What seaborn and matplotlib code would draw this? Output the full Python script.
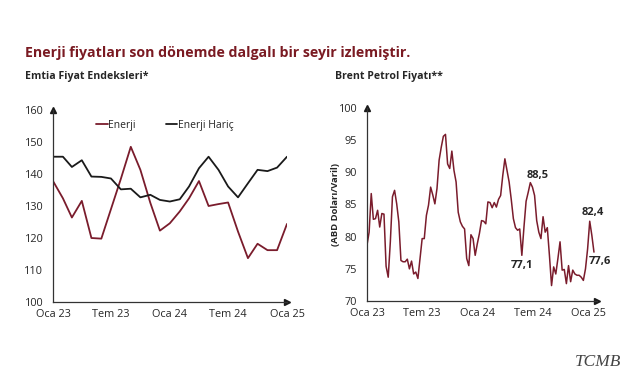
import pandas as pd
import numpy as np
import matplotlib
matplotlib.use("Agg")
import matplotlib.pyplot as plt
import seaborn as sns

# ==========================================
# DATA
# ==========================================

# Emtia fiyat endeksleri (aylik, Oca 23 - Oca 25)
enerji = [137.8, 132.4, 126.4, 131.6, 120.0, 119.8, 129.0, 138.5, 148.5, 141.3,
          131.0, 122.3, 124.6, 128.3, 132.4, 137.8, 130.0, 130.6, 131.1, 122.0,
          113.7, 118.2, 116.2, 116.2, 124.4]
enerji_haric = [145.4, 145.4, 142.2, 144.3, 139.2, 139.1, 138.6, 135.2, 135.4, 132.7,
                133.5, 131.9, 131.4, 132.1, 136.1, 141.8, 145.4, 141.3, 136.1, 132.7,
                137.1, 141.3, 140.9, 142.0, 145.4]

# Brent petrol fiyati (haftalik, ABD Dolari/Varil)
brent = [78.7, 80.7, 86.7, 82.7, 82.8, 84.1, 81.5, 83.6, 83.5, 75.4,
         73.7, 79.2, 86.2, 87.2, 85.1, 82.3, 76.3, 76.1, 76.1, 76.5,
         75.0, 76.2, 74.2, 74.5, 73.5, 76.6, 79.7, 79.7, 83.3, 84.9,
         87.7, 86.5, 85.1, 87.5, 91.9, 93.9, 95.6, 95.9, 91.3, 90.6,
         93.3, 90.3, 88.5, 83.8, 82.3, 81.6, 81.2, 76.6, 75.5, 80.3,
         79.7, 77.1, 78.9, 80.5, 82.5, 82.4, 82.0, 85.4, 85.3, 84.5,
         85.3, 84.6, 85.8, 86.4, 89.5, 92.1, 90.3, 88.5, 85.8, 82.8,
         81.4, 81.0, 81.2, 77.1, 81.5, 85.5, 86.9, 88.4, 87.7, 86.4,
         82.5, 80.7, 79.7, 83.1, 80.7, 81.4, 77.1, 72.4, 75.3, 74.2,
         76.6, 79.2, 74.8, 74.9, 72.7, 75.5, 73.0, 74.8, 74.2, 74.0,
         74.0, 73.7, 73.2, 75.0, 78.1, 82.4, 80.2, 77.6]

tick_labels = ["Oca 23", "Tem 23", "Oca 24", "Tem 24", "Oca 25"]
tick_dates = pd.to_datetime(["2023-01-01", "2023-07-01", "2024-01-01",
                             "2024-07-01", "2025-01-01"])

# labels for the brent chart: (index, text, offset in points)
brent_notes = [(73, "77,1", (0, -7)), (77, "88,5", (5, 5)),
               (105, "82,4", (2.5, 6.5)), (107, "77,6", (4.5, -7))]

months = pd.date_range("2023-01-01", periods=len(enerji), freq="MS")
df_left = pd.DataFrame({"Tarih": list(months) * 2,
                        "Deger": enerji + enerji_haric,
                        "Seri": ["Enerji"] * len(enerji) + ["Enerji Hariç"] * len(enerji_haric)})

weeks = pd.date_range("2023-01-01", periods=len(brent), freq="7D")
df_right = pd.DataFrame({"Tarih": weeks, "Brent": brent})

# ==========================================
# STYLE
# ==========================================

sns.set_style("white")
plt.rcParams["font.family"] = ["Open Sans", "DejaVu Sans"]

RED = "#7a1c2c"
BLACK = "#1a1a1a"
AXIS = "#333333"
FS = 7.8

fig = plt.figure(figsize=(6.41, 3.80), dpi=100)

fig.text(25 / 641, 1 - 53 / 380, "Enerji fiyatları son dönemde dalgalı bir seyir izlemiştir.",
         color="#7a1a22", fontsize=10.2, fontweight="bold", va="center")
fig.text(25 / 641, 1 - 77 / 380, "Emtia Fiyat Endeksleri*", fontsize=7.6,
         fontweight="bold", va="center")
fig.text(335 / 641, 1 - 77 / 380, "Brent Petrol Fiyatı**", fontsize=7.6,
         fontweight="bold", va="center")
fig.text(598 / 641, 1 - 362 / 380, "TCMB", family="Liberation Serif", style="italic",
         color="#444444", fontsize=12.5, ha="center", va="center")
fig.text(336 / 641, 1 - 205 / 380, "(ABD Doları/Varil)", rotation=90, fontsize=6.8,
         fontweight="bold", ha="center", va="center")


def style_axis(ax):
    sns.despine(ax=ax)
    for s in ["left", "bottom"]:
        ax.spines[s].set_color(AXIS)
        ax.spines[s].set_linewidth(0.9)
    ax.set_xticks(tick_dates)
    ax.set_xticklabels(tick_labels)
    ax.tick_params(axis="x", direction="in", length=3, color=AXIS, labelsize=FS, pad=5)
    ax.tick_params(axis="y", length=0, labelsize=FS, pad=7)
    ax.set_xlabel("")
    ax.set_ylabel("")
    ax.plot(1, 0, ">", color=BLACK, markersize=4, transform=ax.transAxes, clip_on=False)
    ax.plot(0, 1, "^", color=BLACK, markersize=4, transform=ax.transAxes, clip_on=False)


# ==========================================
# LEFT: EMTIA FIYAT ENDEKSLERI
# ==========================================

ax1 = fig.add_axes([53 / 641, 1 - 302 / 380, 234 / 641, 192 / 380])
sns.lineplot(data=df_left, x="Tarih", y="Deger", hue="Seri",
             palette={"Enerji": RED, "Enerji Hariç": BLACK}, linewidth=1.3, ax=ax1)
ax1.set_xlim(months[0], months[-1])
ax1.set_ylim(100, 160)
ax1.set_yticks(range(100, 161, 10))
style_axis(ax1)
ax1.legend(loc="center left", bbox_to_anchor=(0.185, 0.92), ncol=2, frameon=False,
           fontsize=7.5, handlelength=1.1, handletextpad=0.05, columnspacing=2.9,
           borderpad=0, borderaxespad=0)

# ==========================================
# RIGHT: BRENT PETROL FIYATI
# ==========================================

ax2 = fig.add_axes([367 / 641, 1 - 301 / 380, 230 / 641, 193 / 380])
sns.lineplot(data=df_right, x="Tarih", y="Brent", color=RED, linewidth=1.1, ax=ax2)
ax2.set_xlim(pd.Timestamp("2023-01-01"), pd.Timestamp("2025-01-29"))
ax2.set_ylim(70, 100)
ax2.set_yticks(range(70, 101, 5))
style_axis(ax2)

for idx, txt, off in brent_notes:
    ax2.annotate(txt, (weeks[idx], brent[idx]), xytext=off, textcoords="offset points",
                 ha="center", va="center", fontsize=8, fontweight="bold")

fig.savefig("out.png", dpi=100)
